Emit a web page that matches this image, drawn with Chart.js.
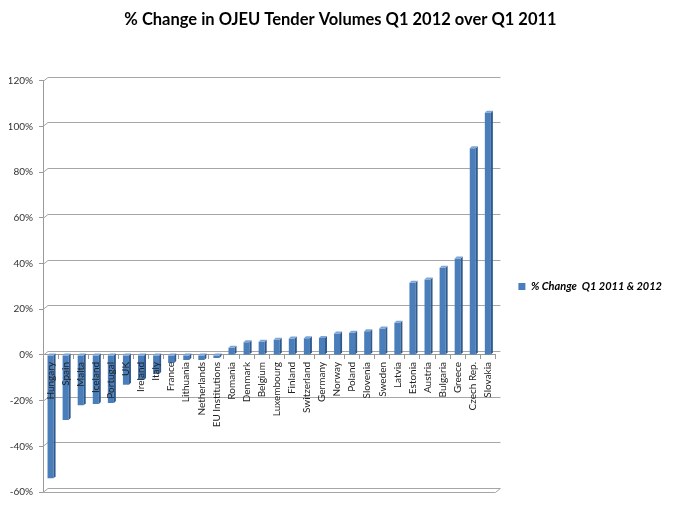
<!DOCTYPE html>
<html>
<head>
<meta charset="utf-8">
<script src="https://cdn.jsdelivr.net/npm/chart.js@4.4.1/dist/chart.umd.min.js"></script>
<style>
  body { margin: 0; background: #fff; }
  #wrap { width: 675px; height: 505px; position: relative; }
</style>
</head>
<body>
<div id="wrap"><canvas id="tenderChart"></canvas></div>
<script>
// 국가별 데이터 (그림에서 읽은 값, 단위 %)
const countries = ["Hungary", "Spain", "Malta", "Iceland", "Portugal", "UK", "Ireland", "Italy",
  "France", "Lithuania", "Netherlands", "EU Institutions", "Romania", "Denmark", "Belgium",
  "Luxembourg", "Finland", "Switzerland", "Germany", "Norway", "Poland", "Slovenia", "Sweden",
  "Latvia", "Estonia", "Austria", "Bulgaria", "Greece", "Czech Rep.", "Slovakia"];
const changeValues = [-54, -28.5, -22, -21.5, -21, -13, -11, -8.3,
  -3.5, -2.2, -2.2, -1.3, 3.1, 5.6, 5.8,
  6.7, 7.2, 7.3, 7.4, 9.4, 9.7, 10.4, 11.6,
  14.1, 31.6, 33, 38.2, 42.2, 90.5, 106];
const seriesName = "% Change  Q1 2011 & 2012";
const yTicks = [-60, -40, -20, 0, 20, 40, 60, 80, 100, 120];

// 3D 느낌 (벽 격자선, 막대 옆면/윗면)
const fake3d = {
  id: 'fake3d',
  beforeDatasetsDraw(chart) {
    const { ctx, chartArea, scales } = chart;
    const y = scales.y;
    const dx = 5, dy = 4;
    ctx.save();
    ctx.strokeStyle = '#a6a6a6';
    ctx.lineWidth = 1;
    yTicks.forEach(v => {
      const py = Math.round(y.getPixelForValue(v)) + 0.5;
      ctx.beginPath();
      ctx.moveTo(chartArea.left, py);
      ctx.lineTo(chartArea.left + dx, py - dy);
      ctx.lineTo(chartArea.right + dx, py - dy);
      ctx.stroke();
    });
    // 바닥
    const fy = Math.round(y.getPixelForValue(-60)) + 0.5;
    ctx.beginPath();
    ctx.moveTo(chartArea.left, fy);
    ctx.lineTo(chartArea.right, fy);
    ctx.lineTo(chartArea.right + dx, fy - dy);
    ctx.stroke();
    ctx.restore();
  },
  afterDatasetsDraw(chart) {
    const { ctx } = chart;
    const dx = 2, dy = 2;
    chart.getDatasetMeta(0).data.forEach(bar => {
      const { x, y, base, width } = bar.getProps(['x', 'y', 'base', 'width'], true);
      const top = Math.min(y, base), bottom = Math.max(y, base);
      const l = x - width / 2, r = x + width / 2;
      ctx.save();
      ctx.fillStyle = '#2f5a8e';
      ctx.beginPath();
      ctx.moveTo(r, top);
      ctx.lineTo(r + dx, top - dy);
      ctx.lineTo(r + dx, bottom - dy);
      ctx.lineTo(r, bottom);
      ctx.closePath();
      ctx.fill();
      ctx.fillStyle = '#7ea6d8';
      ctx.beginPath();
      ctx.moveTo(l, top);
      ctx.lineTo(l + dx, top - dy);
      ctx.lineTo(r + dx, top - dy);
      ctx.lineTo(r, top);
      ctx.closePath();
      ctx.fill();
      ctx.restore();
    });
  }
};

const ctx = document.getElementById('tenderChart').getContext('2d');
new Chart(ctx, {
  type: 'bar',
  data: {
    labels: countries,
    datasets: [{
      label: seriesName,
      data: changeValues,
      backgroundColor: '#4a7ebb',
      borderWidth: 0,
      barPercentage: 0.4,
      categoryPercentage: 1
    }]
  },
  options: {
    responsive: true,
    maintainAspectRatio: false,
    animation: false,
    layout: { padding: { left: 9, right: 3, top: 0, bottom: 13 } },
    plugins: {
      title: {
        display: true,
        text: '% Change in OJEU Tender Volumes Q1 2012 over Q1 2011',
        color: '#000',
        font: { family: 'Lato', size: 16.5, weight: 'bold' },
        padding: { top: 10, bottom: 51 }
      },
      legend: {
        position: 'right',
        fullSize: false,
        maxWidth: 220,
        labels: {
          boxWidth: 7,
          boxHeight: 7,
          padding: 23,
          color: '#000',
          font: { family: 'Lato', size: 11, style: 'italic', weight: 'bold' }
        }
      },
      tooltip: { enabled: false }
    },
    scales: {
      x: {
        position: { y: 0 },
        grid: { drawOnChartArea: false, drawTicks: true, tickLength: 4, color: '#999' },
        border: { display: true, color: '#999' },
        ticks: {
          z: 1,
          autoSkip: false,
          maxRotation: 90,
          minRotation: 90,
          padding: 3,
          color: '#222',
          font: { family: 'Lato', size: 10 }
        }
      },
      y: {
        min: -60,
        max: 120,
        afterFit: scale => { scale.width = 34; },
        grid: { drawOnChartArea: false, drawTicks: true, tickLength: 4, color: '#999' },
        border: { display: true, color: '#999' },
        ticks: {
          stepSize: 20,
          padding: 6,
          color: '#333',
          font: { family: 'Lato', size: 10 },
          callback: v => v + '%'
        }
      }
    }
  },
  plugins: [fake3d]
});
</script>
</body>
</html>
